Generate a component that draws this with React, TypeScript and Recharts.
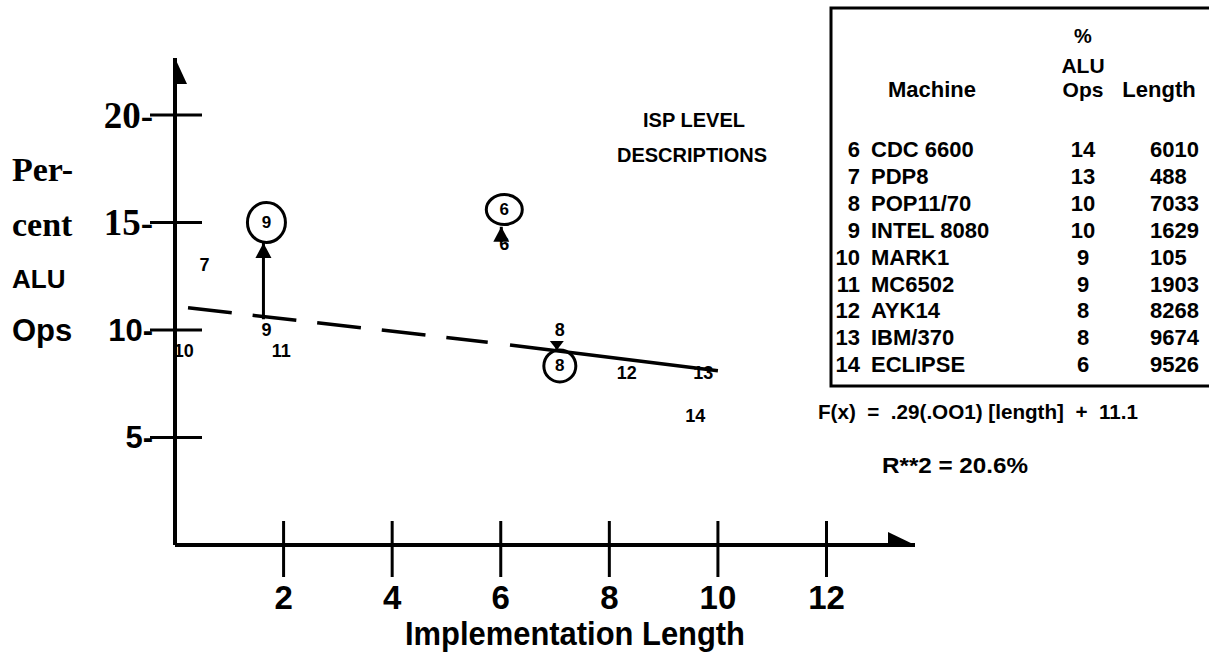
import React from 'react';
import { ScatterChart, Scatter, XAxis, YAxis, ReferenceLine } from 'recharts';

const machineIds = [6, 7, 8, 9, 10, 11, 12, 13, 14];
const machineNames = ['CDC 6600', 'PDP8', 'POP11/70', 'INTEL 8080', 'MARK1', 'MC6502', 'AYK14', 'IBM/370', 'ECLIPSE'];
const aluOps = [14, 13, 10, 10, 9, 9, 8, 8, 6];
const lengths = [6010, 488, 7033, 1629, 105, 1903, 8268, 9674, 9526];

const xTicks = [2, 4, 6, 8, 10, 12];
const yTicks = [5, 10, 15, 20];
const xMax = 13.63;
const yMax = 22.65;

// circled (re-plotted) machines
const circledIds = [9, 6, 8];
const circledX = [1.629, 6.01, 7.033];
const circledY = [15, 15.6, 8.33];

// arrows (x, from, to) in % ALU ops
const arrowX = [1.629, 6.01, 7.033];
const arrowFrom = [10.5, 14.1, 9.45];
const arrowTo = [14.05, 14.8, 9.07];

// regression line (dashed part, then solid part)
const regDashedX = [0.24, 5.76];
const regDashedY = [11.03, 9.43];
const regSolidX = [6.17, 10.0];
const regSolidY = [9.3, 8.1];

const SANS = '"Liberation Sans", Arial, sans-serif';
const SERIF = '"Liberation Serif", "Times New Roman", serif';

const pointData = machineIds.map((id, i) => ({ x: lengths[i] / 1000, y: aluOps[i], id }));
const circledData = circledIds.map((id, i) => ({ x: circledX[i], y: circledY[i], id }));
const arrowData = arrowX.map((x, i) => ({ x, y: arrowTo[i], from: arrowFrom[i], to: arrowTo[i], id: circledIds[i] }));
const axisEnds = [
  { x: 0, y: yMax, dir: 'up' },
  { x: xMax, y: 0, dir: 'right' },
];

const circleStyle: Record<number, { rx: number; ry: number }> = {
  9: { rx: 19, ry: 20 },
  6: { rx: 18, ry: 15 },
  8: { rx: 16, ry: 16 },
};

const XTick = (props: any) => {
  const { x, y, payload } = props;
  return (
    <g>
      <line x1={x} x2={x} y1={y - 24} y2={y + 32} stroke="#000" strokeWidth={3} />
      <text x={x} y={y + 64} textAnchor="middle" fontFamily={SANS} fontWeight="bold" fontSize={33} fill="#000">
        {payload.value}
      </text>
    </g>
  );
};

const YTick = (props: any) => {
  const { x, y, payload } = props;
  const serif = payload.value >= 15;
  return (
    <g>
      <line x1={x - 25} x2={x + 27} y1={y} y2={y} stroke="#000" strokeWidth={3} />
      <text
        x={x - 22}
        y={y + (serif ? 13 : 11)}
        textAnchor="end"
        fontFamily={serif ? SERIF : SANS}
        fontWeight="bold"
        fontSize={serif ? 37 : 31}
        fill="#000"
      >
        {payload.value}-
      </text>
    </g>
  );
};

const LabelShape = (props: any) => {
  const { cx, cy, payload } = props;
  return (
    <text x={cx + 3} y={cy} textAnchor="middle" dominantBaseline="central" fontFamily={SANS} fontWeight="bold" fontSize={18} fill="#000">
      {payload.id}
    </text>
  );
};

const CircledShape = (props: any) => {
  const { cx, cy, payload } = props;
  const s = circleStyle[payload.id] || { rx: 17, ry: 17 };
  return (
    <g>
      <ellipse cx={cx + 3} cy={cy} rx={s.rx} ry={s.ry} fill="none" stroke="#000" strokeWidth={3} />
      <text x={cx + 3} y={cy} textAnchor="middle" dominantBaseline="central" fontFamily={SANS} fontWeight="bold" fontSize={17} fill="#000">
        {payload.id}
      </text>
    </g>
  );
};

const ArrowHeadShape = (props: any) => {
  const { cx, cy, payload } = props;
  const up = payload.to > payload.from;
  const h = payload.id === 8 ? 9 : 15;
  const w = payload.id === 8 ? 7 : 8;
  const by = up ? cy + h : cy - h;
  return <polygon points={`${cx},${cy} ${cx - w},${by} ${cx + w},${by}`} fill="#000" />;
};

const AxisArrowShape = (props: any) => {
  const { cx, cy, payload } = props;
  if (payload.dir === 'up') {
    return <polygon points={`${cx},${cy} ${cx - 12},${cy + 26} ${cx + 12},${cy + 26}`} fill="#000" />;
  }
  return <polygon points={`${cx},${cy} ${cx - 27},${cy - 13} ${cx - 27},${cy + 13}`} fill="#000" />;
};

const tableRowY0 = 157;
const tableRowStep = 26.9;

export default function App() {
  return (
    <div style={{ position: 'absolute', left: 0, top: 0, width: 1209, height: 655, background: '#fff' }}>
      <ScatterChart width={1209} height={655} margin={{ top: 58, right: 294, bottom: 0, left: 0 }}>
        <XAxis
          type="number"
          dataKey="x"
          domain={[0, xMax]}
          ticks={xTicks}
          interval={0}
          height={110}
          tickSize={0}
          tickMargin={0}
          tickLine={false}
          axisLine={{ stroke: '#000', strokeWidth: 4 }}
          tick={<XTick />}
          allowDataOverflow
        />
        <YAxis
          type="number"
          dataKey="y"
          domain={[0, yMax]}
          ticks={yTicks}
          interval={0}
          width={175}
          tickSize={0}
          tickMargin={0}
          tickLine={false}
          axisLine={{ stroke: '#000', strokeWidth: 4 }}
          tick={<YTick />}
          allowDataOverflow
        />
        <ReferenceLine
          segment={[{ x: regDashedX[0], y: regDashedY[0] }, { x: regDashedX[1], y: regDashedY[1] }]}
          stroke="#000"
          strokeWidth={3.5}
          strokeDasharray="44 21"
        />
        <ReferenceLine
          segment={[{ x: regSolidX[0], y: regSolidY[0] }, { x: regSolidX[1], y: regSolidY[1] }]}
          stroke="#000"
          strokeWidth={3.5}
        />
        {arrowX.map((x, i) => (
          <ReferenceLine
            key={'arr' + i}
            segment={[{ x, y: arrowFrom[i] }, { x, y: arrowTo[i] }]}
            stroke="#000"
            strokeWidth={3}
          />
        ))}
        <Scatter data={axisEnds} shape={<AxisArrowShape />} isAnimationActive={false} />
        <Scatter data={arrowData} shape={<ArrowHeadShape />} isAnimationActive={false} />
        <Scatter data={circledData} shape={<CircledShape />} isAnimationActive={false} />
        <Scatter data={pointData} shape={<LabelShape />} isAnimationActive={false} />
      </ScatterChart>

      <svg
        width={1209}
        height={655}
        style={{ position: 'absolute', left: 0, top: 0, pointerEvents: 'none' }}
        fontWeight="bold"
        fill="#000"
      >
        {/* y-axis title */}
        <text x={12} y={181} fontFamily={SERIF} fontSize={34}>Per-</text>
        <text x={12} y={236} fontFamily={SERIF} fontSize={34}>cent</text>
        <text x={12} y={288} fontFamily={SANS} fontSize={26}>ALU</text>
        <text x={12} y={341} fontFamily={SANS} fontSize={31}>Ops</text>

        {/* x-axis title */}
        <text x={405} y={645} fontFamily={SANS} fontSize={34} textLength={340} lengthAdjust="spacingAndGlyphs">
          Implementation Length
        </text>

        {/* in-plot annotation */}
        <text x={694} y={127} textAnchor="middle" fontFamily={SANS} fontSize={20}>ISP LEVEL</text>
        <text x={692} y={162} textAnchor="middle" fontFamily={SANS} fontSize={20}>DESCRIPTIONS</text>

        {/* table */}
        <rect x={831} y={8} width={420} height={378} fill="none" stroke="#000" strokeWidth={3} />
        <text x={1083} y={43} textAnchor="middle" fontFamily={SANS} fontSize={20}>%</text>
        <text x={1083} y={73} textAnchor="middle" fontFamily={SANS} fontSize={21}>ALU</text>
        <text x={1083} y={97} textAnchor="middle" fontFamily={SANS} fontSize={21}>Ops</text>
        <text x={932} y={97} textAnchor="middle" fontFamily={SANS} fontSize={22}>Machine</text>
        <text x={1159} y={97} textAnchor="middle" fontFamily={SANS} fontSize={22}>Length</text>
        {machineIds.map((id, i) => {
          const y = tableRowY0 + i * tableRowStep;
          return (
            <g key={id} fontFamily={SANS} fontSize={22}>
              <text x={860} y={y} textAnchor="end">{id}</text>
              <text x={871} y={y}>{machineNames[i]}</text>
              <text x={1083} y={y} textAnchor="middle">{aluOps[i]}</text>
              <text x={1150} y={y}>{lengths[i]}</text>
            </g>
          );
        })}

        {/* regression annotation */}
        <text x={818} y={419} fontFamily={SANS} fontSize={20} textLength={320} lengthAdjust="spacingAndGlyphs" xmlSpace="preserve">
          F(x)  =  .29(.OO1) [length]  +  11.1
        </text>
        <text x={882} y={473} fontFamily={SANS} fontSize={22} textLength={146} lengthAdjust="spacingAndGlyphs">
          R**2 = 20.6%
        </text>
      </svg>
    </div>
  );
}
